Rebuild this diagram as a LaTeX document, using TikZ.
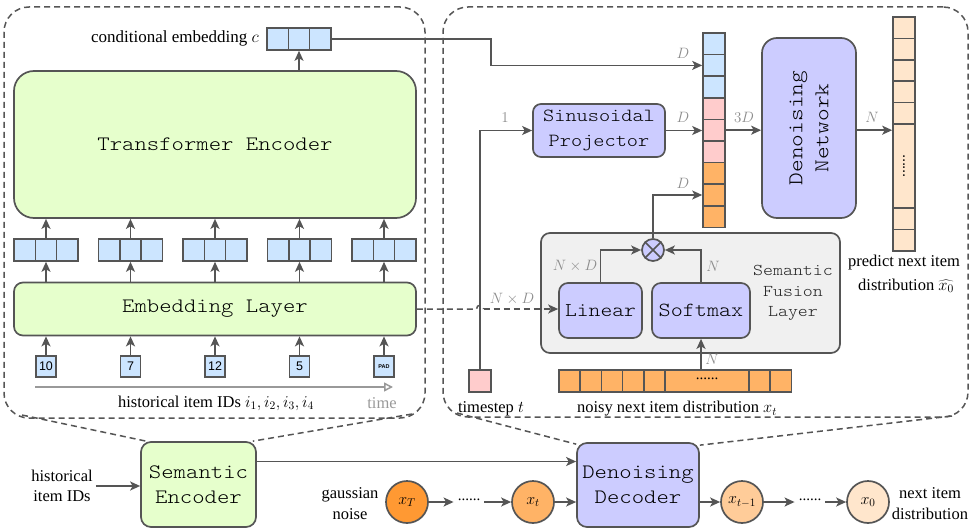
\RequirePackage{fix-cm}
\documentclass[tikz,border=0pt]{standalone}
\usepackage{fontspec}
\setmainfont{Liberation Serif}
\newfontfamily\codefont[FakeStretch=1.15]{lmmonolt10-regular.otf}
\newfontfamily\sansf{Liberation Sans}
\usetikzlibrary{arrows.meta,calc}
\definecolor{lc}{HTML}{555555}
\definecolor{cgreen}{HTML}{E6FFCC}
\definecolor{cblue}{HTML}{CCE5FF}
\definecolor{clav}{HTML}{CCCCFF}
\definecolor{cpink}{HTML}{FFCCCC}
\definecolor{corange}{HTML}{FFB366}
\definecolor{cdeep}{HTML}{FF9933}
\definecolor{cmid}{HTML}{FFCC99}
\definecolor{cpeach}{HTML}{FFE6CC}
\definecolor{cfus}{HTML}{F0F0F0}
\definecolor{labgray}{HTML}{8C8C8C}
\definecolor{tgray}{HTML}{999999}
\begin{document}
\begin{tikzpicture}[x=1pt,y=-1pt,
  ln/.style={draw=lc,line width=1.7pt},
  arr/.style={draw=lc,line width=1.7pt,-{Stealth[length=10pt,width=9pt,inset=2.5pt]}},
  dln/.style={draw=lc,line width=1.5pt,dash pattern=on 6pt off 4pt},
  dbox/.style={dln,rounded corners=25pt,inner sep=0pt},
  cell/.style={draw=lc,line width=1.6pt,inner sep=0pt,minimum width=21.33pt,minimum height=22pt},
  vcell/.style={draw=lc,line width=1.6pt,inner sep=0pt,minimum width=22pt,minimum height=21.6pt},
  blk/.style={draw=lc,line width=1.7pt,inner sep=0pt,align=center},
  lab/.style={text=labgray,inner sep=0pt,font=\fontsize{15}{18}\selectfont},
  txt/.style={inner sep=0pt,align=center,font=\fontsize{16.5}{20}\selectfont},
  circ/.style={circle,draw=lc,line width=1.7pt,minimum size=42pt,inner sep=0pt,font=\fontsize{16}{18}\selectfont},
]
\useasboundingbox (0,0) rectangle (976,532);

% dashed outer boxes
\node[dbox,minimum width=421pt,minimum height=411pt] (lbox) at (214.5,212.5) {};
\node[dbox,minimum width=525pt,minimum height=410pt] (rbox) at (705.5,212) {};

% ---------------- left: semantic encoder detail
\node[blk,fill=cgreen,rounded corners=20pt,minimum width=402pt,minimum height=147pt,
  font=\codefont\fontsize{20.5}{24}\selectfont] (TE) at (215,144.5) {Transformer Encoder};
\node[blk,fill=cgreen,rounded corners=9pt,minimum width=402pt,minimum height=53pt,
  font=\codefont\fontsize{20.5}{24}\selectfont] (EL) at (215,309) {Embedding Layer};

\foreach \i/\x in {1/277.7,2/299,3/320.3}
  \node[cell,fill=cblue] (c\i) at (\x,39) {};
\node[txt,anchor=east,font=\fontsize{17}{20}\selectfont] (clab) at (259,38) {conditional embedding $c$};
\draw[arr] (c2.south |- TE.north) -- (c2.south);

\foreach \g/\cx/\id in {1/46/10,2/130.5/7,3/215/12,4/299.5/5}{
  \foreach \k in {1,2,3}
    \node[cell,fill=cblue] (e\g\k) at ({\cx+(\k-2)*21.33},250) {};
  \node[cell,fill=cblue,minimum width=20pt,minimum height=21pt,
    font=\sansf\fontsize{12.5}{13}\selectfont] (id\g) at (\cx,366.5) {\id};
}
\foreach \k in {1,2,3}
  \node[cell,fill=cblue] (e5\k) at ({384+(\k-2)*21.33},250) {};
\node[cell,fill=cblue,minimum width=20pt,minimum height=21pt,
  font=\sansf\bfseries\fontsize{5.5}{6}\selectfont] (id5) at (384,366.5) {PAD};
\foreach \g in {1,...,5}{
  \draw[arr] (e\g2.north) -- (e\g2.north |- TE.south);
  \draw[arr] (e\g2.south |- EL.north) -- (e\g2.south);
  \draw[arr] (id\g.north) -- (id\g.north |- EL.south);
}
\coordinate (t0) at (35,387);
\coordinate (t1) at (393,387);
\draw[draw=tgray,line width=1.5pt,-{Triangle[open,length=9pt,width=9pt]}] (t0) -- (t1);
\node[txt] (hlab) at (216,403) {historical item IDs $i_1,i_2,i_3,i_4$};
\node[txt,text=tgray] (tlab) at (382,403) {time};

% ---------------- right: denoising decoder detail
\foreach \k in {0,1,2}
  \node[vcell,fill=cblue] (cat\k) at (714,{43.8+21.6*\k}) {};
\foreach \k in {3,4,5}
  \node[vcell,fill=cpink] (cat\k) at (714,{43.8+21.6*\k}) {};
\foreach \k in {6,7,8}
  \node[vcell,fill=corange] (cat\k) at (714,{43.8+21.6*\k}) {};

\node[blk,fill=clav,rounded corners=8pt,minimum width=132pt,minimum height=53pt,
  font=\codefont\fontsize{18.5}{25}\selectfont] (SP) at (599,130.5) {Sinusoidal\\Projector};
\node[blk,fill=clav,rounded corners=15pt,minimum width=94pt,minimum height=180pt] (DN) at (809,128) {};
\node[rotate=90,align=center,inner sep=0pt,font=\codefont\fontsize{21}{26}\selectfont] (DNt) at (DN.center) {Denoising\\Network};

% output vector
\foreach \k/\y in {1/27.7,2/49.1,3/70.5,4/91.9,5/113.3}
  \node[vcell,fill=cpeach,minimum height=21.4pt] (o\k) at (904,\y) {};
\node[vcell,fill=cpeach,minimum height=84pt] (o6) at (904,166) {};
\node[rotate=90,inner sep=0pt,font=\fontsize{15}{16}\selectfont] (odots) at (o6.center) {......};
\foreach \k/\y in {7/218.7,8/240.1}
  \node[vcell,fill=cpeach,minimum height=21.4pt] (o\k) at (904,\y) {};
\node[txt] (plab1) at (904,263) {predict next item};
\node[txt] (plab2) at (906,286) {distribution $\widehat{x_0}$};

% connectors top right
\draw[arr] (c3.east) -- ++(159,0) |- (cat1.west);
\node[lab] (lD1) at (683,53) {$D$};
\draw[arr] (SP.east) -- (SP.east -| cat4.west);
\node[lab] (lD2) at (683,117) {$D$};
\draw[arr] (cat4.east) -- (cat4.east -| DN.west);
\node[lab] (l3D) at (744,117) {$3D$};
\draw[arr] (DN.east |- cat4.east) -- (o6.west |- cat4.east);
\node[lab] (lN1) at (872,117) {$N$};

% fusion layer
\node[blk,fill=cfus,rounded corners=9pt,minimum width=299pt,minimum height=120pt] (FL) at (690.5,293) {};
\node[blk,fill=clav,rounded corners=9pt,minimum width=83pt,minimum height=55pt,
  font=\codefont\fontsize{19.5}{24}\selectfont] (Lin) at (600.5,310.5) {Linear};
\node[blk,fill=clav,rounded corners=9pt,minimum width=98pt,minimum height=55pt,
  font=\codefont\fontsize{20}{24}\selectfont] (Soft) at (701,310.5) {Softmax};
\node[align=center,inner sep=0pt,text=black!85,font=\codefont\fontsize{16.5}{20.5}\selectfont] (FLt) at (793,293) {Semantic\\Fusion\\Layer};
\node[circle,draw=lc,line width=1.7pt,fill=clav,minimum size=22pt,inner sep=0pt] (ot) at (653,250) {};
\draw[ln] (ot.north west) -- (ot.south east);
\draw[ln] (ot.north east) -- (ot.south west);
\draw[arr] (Lin.north) |- (ot.west);
\draw[arr] (Soft.north) |- (ot.east);
\node[lab] (lND1) at (575,266) {$N\times D$};
\node[lab] (lN2) at (713,266) {$N$};
\draw[arr] (ot.north) |- (cat7.west);
\node[lab] (lD3) at (683,183) {$D$};

% noisy vector
\foreach \k/\x in {1/569.5,2/590.7,3/611.9,4/633.1,5/654.3}
  \node[cell,fill=corange,minimum width=21.2pt] (n\k) at (\x,381) {};
\node[cell,fill=corange,minimum width=84pt] (n6) at (707,381) {};
\node[inner sep=0pt,font=\fontsize{15}{16}\selectfont] (ndots) at ([yshift=2pt]n6.center) {......};
\foreach \k/\x in {7/759.6,8/780.8}
  \node[cell,fill=corange,minimum width=21.2pt] (n\k) at (\x,381) {};
\node[txt] (nlab) at (677,409) {noisy next item distribution $x_t$};
\draw[arr] (Soft.south |- n6.north) -- (Soft.south);
\node[lab] (lN3) at (712,359) {$N$};

% timestep
\node[cell,fill=cpink,minimum width=22pt,minimum height=22pt] (ts) at (480,381) {};
\node[txt] (tslab) at (491,409) {timestep $t$};
\draw[arr] (ts.north) |- (SP.west);
\node[lab] (l1) at (505,118) {$1$};

% dashed semantic link with hop
\draw[dln] (EL.east) -- (476.5,309) .. controls (476.5,304) and (483.5,304) .. (483.5,309);
\draw[dln,-{Stealth[length=10pt,width=9pt,inset=2.5pt]}] (483.5,309) -- (Lin.west |- EL.east);
\node[lab] (lND2) at (512,299) {$N\times D$};

% ---------------- bottom overview
\node[blk,fill=cgreen,rounded corners=10pt,minimum width=115pt,minimum height=85pt,
  font=\codefont\fontsize{20.5}{25}\selectfont] (SE) at (198.5,484.5) {Semantic\\Encoder};
\node[blk,fill=clav,rounded corners=10pt,minimum width=122pt,minimum height=84pt,
  font=\codefont\fontsize{20.5}{25}\selectfont] (DD) at (638,485) {Denoising\\Decoder};
\node[txt,font=\fontsize{16.5}{20}\selectfont] (hist) at (62,486) {historical\\item IDs};
\draw[arr] ([xshift=3pt]hist.east) -- (SE.west |- hist.east);
\draw[arr] ([yshift=23pt]SE.east) -- ([yshift=23pt]SE.east -| DD.west);

\node[txt,font=\fontsize{16.5}{21}\selectfont] (gn) at (350,504) {gaussian\\noise};
\node[circ,fill=cdeep] (xT) at (407,502) {$x_T$};
\node[inner sep=4pt,font=\fontsize{15}{16}\selectfont] (d1) at (469,500) {......};
\node[circ,fill=corange] (xt) at (533,502) {$x_t$};
\node[circ,fill=cmid] (xt1) at (742,502) {$x_{t-1}$};
\node[inner sep=4pt,font=\fontsize{15}{16}\selectfont] (d2) at (810,500) {......};
\node[circ,fill=cpeach] (x0) at (868,502) {$x_0$};
\node[txt,font=\fontsize{16.5}{21}\selectfont] (nid) at (930,504) {next item\\distribution};
\draw[arr] (xT.east) -- (d1.west |- xT.east);
\draw[arr] (d1.east |- xt.west) -- (xt.west);
\draw[arr] (xt.east) -- (DD.west |- xt.east);
\draw[arr] (DD.east |- xt1.west) -- (xt1.west);
\draw[arr] (xt1.east) -- (d2.west |- xt1.east);
\draw[arr] (d2.east |- x0.west) -- (x0.west);

% dashed zoom lines
\coordinate (lA) at (22,415);
\coordinate (lB) at (412,414);
\coordinate (rA) at (457,413);
\coordinate (rB) at (952,416);
\draw[dln] (lA) -- ([xshift=6pt]SE.north west);
\draw[dln] (lB) -- ([xshift=-4pt]SE.north east);
\draw[dln] (rA) -- ([yshift=-2pt]DD.north west);
\draw[dln] (rB) -- ([yshift=-3pt]DD.north east);
\end{tikzpicture}
\end{document}
